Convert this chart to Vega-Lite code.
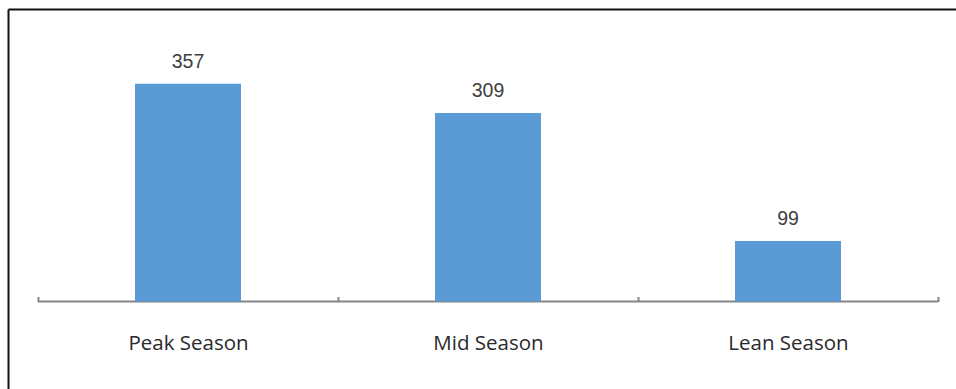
{
  "$schema": "https://vega.github.io/schema/vega-lite/v6.json",
  "autosize": {"type": "none"},
  "padding": {"left": 8, "top": 9, "right": 0, "bottom": 0},
  "width": 948,
  "height": 380,
  "background": "white",
  "config": {"view": {"stroke": null}},
  "data": {"values": [
    {"season": "Peak Season", "value": 357},
    {"season": "Mid Season", "value": 309},
    {"season": "Lean Season", "value": 99}
  ]},
  "resolve": {"axis": {"x": "independent", "y": "independent"}},
  "layer": [
    {
      "mark": {"type": "bar", "fill": null, "stroke": "#858585", "strokeWidth": 2, "width": {"band": 1}},
      "encoding": {
        "x": {"field": "season", "type": "nominal", "sort": null,
          "scale": {"paddingInner": 0, "paddingOuter": 0.08, "align": 0.625},
          "axis": {"orient": "bottom", "offset": -87.5, "title": null, "domain": false,
            "tickBand": "extent", "tickSize": -5, "tickColor": "#858585", "tickWidth": 2,
            "labelPadding": 37, "labelAngle": 0, "labelFont": "Open Sans", "labelFontSize": 20.5,
            "labelColor": "#2a2a2a", "grid": false}},
        "y": {"datum": 0, "type": "quantitative",
          "scale": {"domain": [-143.4, 479.5], "nice": false, "zero": false},
          "axis": {"orient": "left", "title": null, "domain": true, "domainColor": "#111111", "domainWidth": 2,
            "ticks": false, "labels": false, "grid": false}},
        "y2": {"datum": 0}
      }
    },
    {
      "mark": {"type": "bar", "color": "#5B9BD5", "width": {"band": 0.3533}},
      "encoding": {
        "x": {"field": "season", "type": "nominal", "sort": null,
          "axis": {"orient": "top", "title": null, "domain": true, "domainColor": "#111111", "domainWidth": 2,
            "ticks": false, "labels": false, "grid": false}},
        "y": {"field": "value", "type": "quantitative", "axis": null},
        "y2": {"datum": 0}
      }
    },
    {
      "mark": {"type": "text", "baseline": "alphabetic", "dy": -16, "font": "Liberation Sans", "fontSize": 19.5, "color": "#404040"},
      "encoding": {
        "x": {"field": "season", "type": "nominal", "sort": null, "axis": null},
        "y": {"field": "value", "type": "quantitative", "axis": null},
        "text": {"field": "value", "type": "quantitative"}
      }
    }
  ]
}
